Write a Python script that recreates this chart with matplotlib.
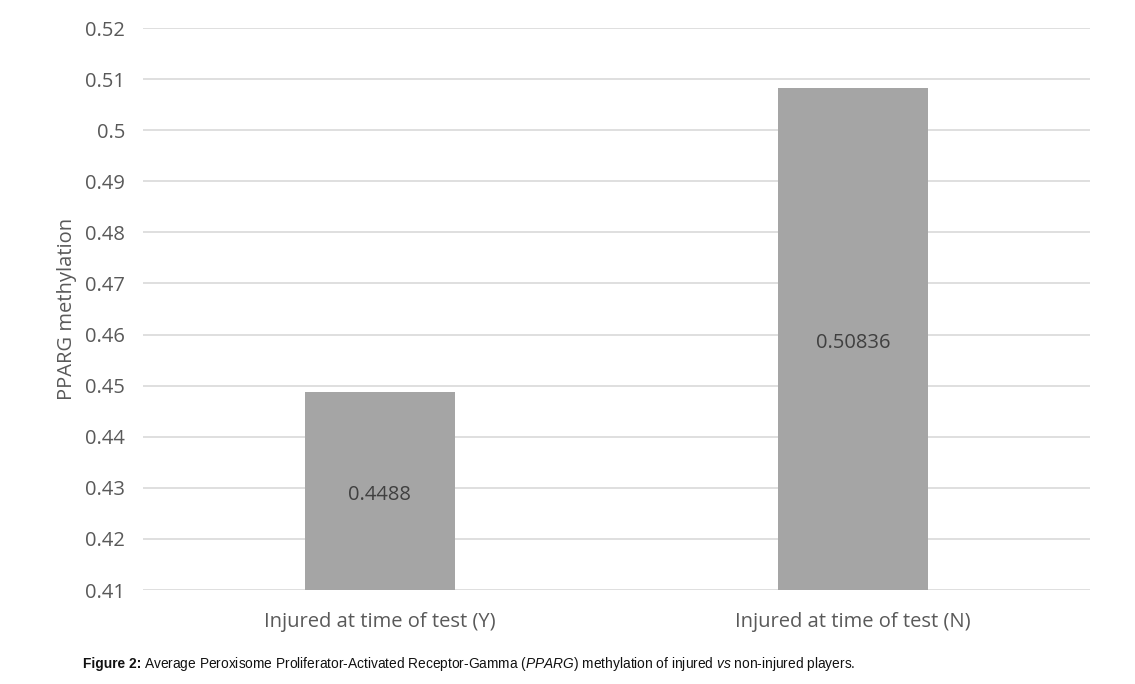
import matplotlib
matplotlib.use('Agg')
import matplotlib.pyplot as plt
from matplotlib.transforms import offset_copy

categories = ['Injured at time of test (Y)', 'Injured at time of test (N)']
values = [0.4488, 0.50836]
value_labels = ['0.4488', '0.50836']
yticks = [0.41, 0.42, 0.43, 0.44, 0.45, 0.46, 0.47, 0.48, 0.49, 0.5, 0.51, 0.52]

plt.rcParams['font.family'] = ['Open Sans', 'DejaVu Sans']
plt.rcParams['mathtext.fontset'] = 'custom'
plt.rcParams['mathtext.rm'] = 'Liberation Sans'
plt.rcParams['mathtext.it'] = 'Liberation Sans:italic'
plt.rcParams['mathtext.bf'] = 'Liberation Sans:bold'

fig = plt.figure(figsize=(11.35, 6.84), dpi=100)
ax = fig.add_axes([0.126, 0.1374, 0.834, 0.8216])

bot = 0.41
x = range(len(categories))
ax.bar(x, [v - bot for v in values], bottom=bot, width=0.317, color='#a5a5a5', zorder=3)
for i, v in enumerate(values):
    ax.text(i, (v + bot) / 2, value_labels[i], ha='center', va='center',
            fontsize=14.5, color='#404040', zorder=4,
            transform=offset_copy(ax.transData, fig=fig, y=-3, units='points'))

ax.set_xlim(-0.5, 1.5)
ax.set_ylim(0.41, 0.52)
ax.set_yticks(yticks)
ax.set_yticklabels([('%g' % t) for t in yticks])
ax.set_xticks(list(x))
ax.set_xticklabels(categories)
ax.tick_params(axis='both', length=0, labelsize=14.5, labelcolor='#595959')
ax.tick_params(axis='y', pad=13)
ax.tick_params(axis='x', pad=16)
ax.grid(axis='y', color='#d9d9d9', linewidth=1.2, zorder=0)
for s in ax.spines.values():
    s.set_visible(False)
ax.set_ylabel('PPARG methylation', fontsize=14.5, color='#595959', labelpad=6)

# caption: bold lead-in, then the rest with italics
cap_y = 0.024
t1 = fig.text(0.073, cap_y, 'Figure 2:', fontsize=9.9, fontweight='bold',
              family='Liberation Sans', color='#111111')
fig.canvas.draw()
w = t1.get_window_extent().width
fig.text(0.073 + (w + 3) / fig.bbox.width, cap_y,
         r'Average Peroxisome Proliferator-Activated Receptor-Gamma ($\it{PPARG}$) methylation of injured $\it{vs}$ non-injured players.',
         fontsize=9.9, family='Liberation Sans', color='#111111')

fig.savefig('out.png', dpi=100)
